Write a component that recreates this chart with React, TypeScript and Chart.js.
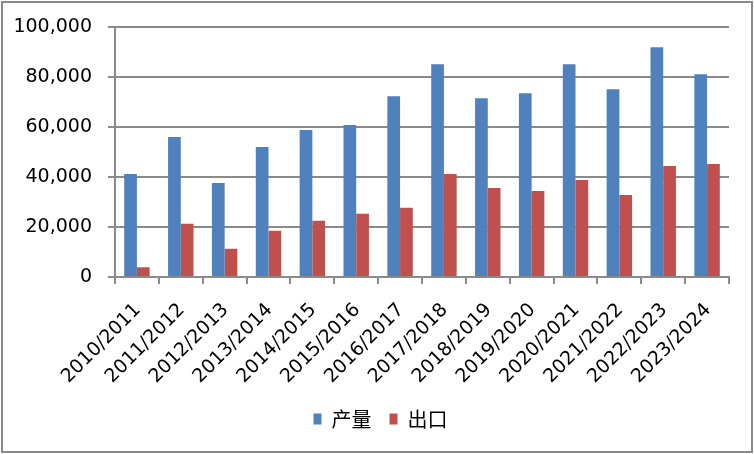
import { Chart, ChartConfiguration, registerables } from "chart.js";
import React, { useEffect, useRef } from "react";

Chart.register(...registerables);

const seasons = [
  "2010/2011",
  "2011/2012",
  "2012/2013",
  "2013/2014",
  "2014/2015",
  "2015/2016",
  "2016/2017",
  "2017/2018",
  "2018/2019",
  "2019/2020",
  "2020/2021",
  "2021/2022",
  "2022/2023",
  "2023/2024",
];
const output = [
  41300, 56100, 37700, 52100, 58900, 60900, 72400, 85200, 71600, 73600, 85200,
  75200, 92000, 81200,
];
const exports = [
  3900, 21300, 11300, 18500, 22500, 25300, 27700, 41300, 35700, 34500, 38900,
  32900, 44500, 45300,
];

const GRID = "#8a8a8a";

// outer frame round the whole chart
const framePlugin = {
  id: "frame",
  afterDraw(chart: Chart) {
    const { ctx } = chart;
    ctx.save();
    ctx.strokeStyle = GRID;
    ctx.lineWidth = 2;
    ctx.strokeRect(2, 2, 750, 450);
    ctx.restore();
  },
};

// the legend sits centred under the whole frame, not under the plot area
const legendShift = {
  id: "legendShift",
  afterLayout(chart: Chart) {
    if (chart.legend) {
      chart.legend.left += 16;
      chart.legend.right += 16;
    }
  },
};

const App: React.FC = () => {
  const chartRef = useRef<HTMLCanvasElement | null>(null);

  useEffect(() => {
    document.body.style.margin = "0";
    if (!chartRef.current) return;
    const ctx = chartRef.current.getContext("2d");
    if (!ctx) return;

    const config: ChartConfiguration<"bar"> = {
      type: "bar",
      data: {
        labels: seasons,
        datasets: [
          {
            label: "产量",
            data: output,
            backgroundColor: "#4f81bd",
            categoryPercentage: 0.58,
            barPercentage: 1,
          },
          {
            label: "出口",
            data: exports,
            backgroundColor: "#c0504d",
            categoryPercentage: 0.58,
            barPercentage: 1,
          },
        ],
      },
      options: {
        animation: false,
        responsive: false,
        locale: "en-US",
        layout: { padding: { top: 26, right: 25, bottom: 15, left: 0 } },
        plugins: {
          tooltip: { enabled: false },
          legend: {
            position: "bottom",
            labels: {
              boxWidth: 8,
              boxHeight: 11,
              padding: 18,
              color: "#000",
              font: { family: "Noto Sans CJK SC", size: 20, lineHeight: 1 },
            },
          },
        },
        scales: {
          x: {
            afterFit: (scale) => {
              scale.height = 114;
            },
            grid: {
              drawOnChartArea: false,
              drawTicks: true,
              tickLength: 7,
              color: GRID,
              lineWidth: 2,
              offset: true,
            },
            border: { display: true, color: GRID, width: 2 },
            ticks: {
              minRotation: 45,
              maxRotation: 45,
              autoSkip: false,
              padding: 15,
              labelOffset: 1,
              color: "#000",
              font: { family: "DejaVu Sans", size: 19 },
            },
          },
          y: {
            min: 0,
            max: 100000,
            afterFit: (scale) => {
              scale.width = 115;
            },
            grid: {
              color: GRID,
              lineWidth: 2,
              drawTicks: true,
              tickLength: 7,
            },
            border: { display: true, color: GRID, width: 2 },
            ticks: {
              stepSize: 20000,
              padding: 16,
              color: "#000",
              font: { family: "DejaVu Sans", size: 19 },
            },
          },
        },
      },
      plugins: [framePlugin, legendShift],
    };

    const chart = new Chart(ctx, config);
    return () => {
      chart.destroy();
    };
  }, []);

  return (
    <div style={{ width: 754, height: 454, background: "#fff" }}>
      <canvas ref={chartRef} width={754} height={454} />
    </div>
  );
};

export default App;
